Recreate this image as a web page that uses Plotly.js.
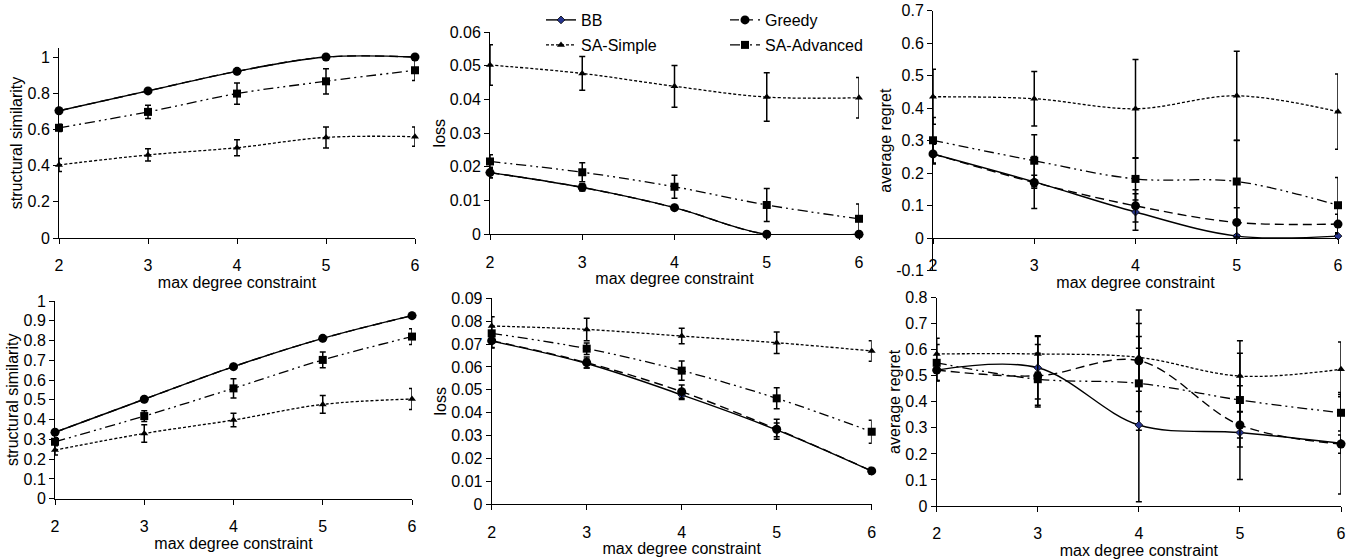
<!DOCTYPE html>
<html>
<head>
<meta charset="utf-8">
<script src="https://cdn.plot.ly/plotly-3.0.1.min.js"></script>
<style>
html,body{margin:0;padding:0;background:#fff;}
#chart{width:1360px;height:559px;}
</style>
</head>
<body>
<div id="chart"></div>
<script>
// ---------- data ----------
const degrees = [2, 3, 4, 5, 6];
const seriesNames = ["BB", "Greedy", "SA-Simple", "SA-Advanced"];
const xTitle = "max degree constraint";
const yTitles = ["structural similarity", "loss", "average regret",
                 "structural similarity", "loss", "average regret"];

// top row: structural similarity
const simTopBB = [0.703, 0.813, 0.921, 1.0, 1.0];
const simTopBBErr = [0, 0, 0, 0, 0];
const simTopGreedy = [0.703, 0.813, 0.921, 1.0, 1.0];
const simTopGreedyErr = [0, 0, 0, 0, 0];
const simTopSimple = [0.404, 0.459, 0.499, 0.556, 0.560];
const simTopSimpleErr = [0.036, 0.034, 0.044, 0.058, 0.053];
const simTopAdv = [0.609, 0.697, 0.798, 0.866, 0.927];
const simTopAdvErr = [0.02, 0.037, 0.059, 0.07, 0.057];

// top row: loss
const lossTopBB = [0.0183, 0.0139, 0.0079, 0, 0];
const lossTopBBErr = [0.0015, 0.001, 0.0005, 0, 0];
const lossTopGreedy = [0.0183, 0.0139, 0.0079, 0, 0];
const lossTopGreedyErr = [0.0015, 0.001, 0.0005, 0, 0];
const lossTopSimple = [0.0502, 0.0477, 0.0439, 0.0407, 0.0405];
const lossTopSimpleErr = [0.006, 0.005, 0.0062, 0.0072, 0.006];
const lossTopAdv = [0.0216, 0.0184, 0.0141, 0.0087, 0.0046];
const lossTopAdvErr = [0.002, 0.0028, 0.0034, 0.0049, 0.0044];

// top row: average regret
const regTopBB = [0.259, 0.173, 0.080, 0.006, 0.006];
const regTopBBErr = [0.03, 0.02, 0.056, 0.004, 0.004];
const regTopGreedy = [0.259, 0.171, 0.099, 0.048, 0.043];
const regTopGreedyErr = [0.03, 0.08, 0.05, 0.045, 0.03];
const regTopSimple = [0.435, 0.429, 0.398, 0.438, 0.389];
const regTopSimpleErr = [0.085, 0.084, 0.152, 0.137, 0.116];
const regTopAdv = [0.301, 0.238, 0.182, 0.174, 0.101];
const regTopAdvErr = [0.07, 0.08, 0.065, 0.126, 0.085];

// bottom row: structural similarity
const simBotBB = [0.336, 0.503, 0.668, 0.811, 0.926];
const simBotBBErr = [0, 0, 0, 0, 0];
const simBotGreedy = [0.336, 0.503, 0.668, 0.811, 0.926];
const simBotGreedyErr = [0, 0, 0, 0, 0];
const simBotSimple = [0.246, 0.330, 0.398, 0.477, 0.504];
const simBotSimpleErr = [0.025, 0.044, 0.034, 0.045, 0.053];
const simBotAdv = [0.288, 0.418, 0.558, 0.702, 0.820];
const simBotAdvErr = [0.02, 0.027, 0.049, 0.04, 0.04];

// bottom row: loss
const lossBotBB = [0.0713, 0.0615, 0.0478, 0.0325, 0.0145];
const lossBotBBErr = [0.003, 0.002, 0.002, 0.003, 0.001];
const lossBotGreedy = [0.0715, 0.0619, 0.0492, 0.0328, 0.0146];
const lossBotGreedyErr = [0.003, 0.0024, 0.0029, 0.0044, 0.0015];
const lossBotSimple = [0.0779, 0.0764, 0.0735, 0.0706, 0.0670];
const lossBotSimpleErr = [0.004, 0.0049, 0.0034, 0.0047, 0.0045];
const lossBotAdv = [0.0747, 0.0680, 0.0584, 0.0463, 0.0317];
const lossBotAdvErr = [0.003, 0.0025, 0.0042, 0.0046, 0.005];

// bottom row: average regret
const regBotBB = [0.522, 0.531, 0.311, 0.282, 0.241];
const regBotBBErr = [0.04, 0.12, 0.295, 0.18, 0.195];
const regBotGreedy = [0.522, 0.500, 0.558, 0.311, 0.238];
const regBotGreedyErr = [0.04, 0.12, 0.195, 0.05, 0.035];
const regBotSimple = [0.584, 0.584, 0.571, 0.499, 0.525];
const regBotSimpleErr = [0.06, 0.07, 0.13, 0.136, 0.105];
const regBotAdv = [0.550, 0.487, 0.471, 0.407, 0.358];
const regBotAdvErr = [0.07, 0.1, 0.18, 0.18, 0.07];

// tick labels
const xTickVals = [2, 3, 4, 5, 6];
const xTickText = ["2", "3", "4", "5", "6"];
const simTopTicks = [0, 0.2, 0.4, 0.6, 0.8, 1];
const simTopTickText = ["0", "0.2", "0.4", "0.6", "0.8", "1"];
const lossTopTicks = [0, 0.01, 0.02, 0.03, 0.04, 0.05, 0.06];
const lossTopTickText = ["0", "0.01", "0.02", "0.03", "0.04", "0.05", "0.06"];
const regTopTicks = [-0.1, 0, 0.1, 0.2, 0.3, 0.4, 0.5, 0.6, 0.7];
const regTopTickText = ["-0.1", "0", "0.1", "0.2", "0.3", "0.4", "0.5", "0.6", "0.7"];
const simBotTicks = [0, 0.1, 0.2, 0.3, 0.4, 0.5, 0.6, 0.7, 0.8, 0.9, 1];
const simBotTickText = ["0", "0.1", "0.2", "0.3", "0.4", "0.5", "0.6", "0.7", "0.8", "0.9", "1"];
const lossBotTicks = [0, 0.01, 0.02, 0.03, 0.04, 0.05, 0.06, 0.07, 0.08, 0.09];
const lossBotTickText = ["0", "0.01", "0.02", "0.03", "0.04", "0.05", "0.06", "0.07", "0.08", "0.09"];
const regBotTicks = [0, 0.1, 0.2, 0.3, 0.4, 0.5, 0.6, 0.7, 0.8];
const regBotTickText = ["0", "0.1", "0.2", "0.3", "0.4", "0.5", "0.6", "0.7", "0.8"];

// ---------- styles ----------
const FONT = "Liberation Sans, Arial, sans-serif";
const styles = [
  {dash: "solid", symbol: "diamond", size: 6, color: "#26358f", lw: 1.4},
  {dash: "9px,5px", symbol: "circle", size: 9, color: "#000000", lw: 1.4},
  {dash: "3px,2px", symbol: "triangle-up", size: 7, color: "#000000", lw: 1.3},
  {dash: "10px,4px,2px,4px,2px,4px", symbol: "square", size: 8, color: "#000000", lw: 1.3}
];

const panels = [
  {vals: [simTopBB, simTopGreedy, simTopSimple, simTopAdv], errs: [simTopBBErr, simTopGreedyErr, simTopSimpleErr, simTopAdvErr]},
  {vals: [lossTopBB, lossTopGreedy, lossTopSimple, lossTopAdv], errs: [lossTopBBErr, lossTopGreedyErr, lossTopSimpleErr, lossTopAdvErr]},
  {vals: [regTopBB, regTopGreedy, regTopSimple, regTopAdv], errs: [regTopBBErr, regTopGreedyErr, regTopSimpleErr, regTopAdvErr]},
  {vals: [simBotBB, simBotGreedy, simBotSimple, simBotAdv], errs: [simBotBBErr, simBotGreedyErr, simBotSimpleErr, simBotAdvErr]},
  {vals: [lossBotBB, lossBotGreedy, lossBotSimple, lossBotAdv], errs: [lossBotBBErr, lossBotGreedyErr, lossBotSimpleErr, lossBotAdvErr]},
  {vals: [regBotBB, regBotGreedy, regBotSimple, regBotAdv], errs: [regBotBBErr, regBotGreedyErr, regBotSimpleErr, regBotAdvErr]}
];

const W = 1360, H = 559;
// plot boxes in pixels: [left, right, top, bottom]
const boxes = [
  [59, 415, 48, 238],
  [490, 859, 32, 234.3],
  [933, 1338, 10.7, 270.5],
  [55, 412, 301, 498.7],
  [491.7, 871.7, 298.3, 504.3],
  [936.7, 1341, 297.7, 506]
];
const yRanges = [[0, 1.05], [0, 0.06], [-0.1, 0.7], [0, 1], [0, 0.09], [0, 0.8]];
const yTicks = [simTopTicks, lossTopTicks, regTopTicks, simBotTicks, lossBotTicks, regBotTicks];
const yTickText = [simTopTickText, lossTopTickText, regTopTickText, simBotTickText, lossBotTickText, regBotTickText];

const traces = [];
panels.forEach((p, pi) => {
  const ax = pi === 0 ? "" : String(pi + 1);
  // draw order: SA-Simple, SA-Advanced, BB, Greedy
  [2, 3, 0, 1].forEach(si => {
    const st = styles[si];
    traces.push({
      type: "scatter", mode: "lines+markers",
      x: degrees, y: p.vals[si],
      name: seriesNames[si],
      xaxis: "x" + ax, yaxis: "y" + ax,
      cliponaxis: false,
      line: {color: "#000", width: st.lw, dash: st.dash, shape: "spline", smoothing: 1},
      marker: {symbol: st.symbol, size: st.size, color: st.color, line: {color: "#000", width: si === 0 ? 0.8 : 0}},
      error_y: {type: "data", array: p.errs[si], visible: true, color: "#000", thickness: 1.5, width: 3},
      showlegend: pi === 1,
      legend: (si < 2) ? "legend" : "legend2",
      legendrank: si
    });
  });
});

const legendCommon = {
  orientation: "h", xanchor: "left", yanchor: "top",
  entrywidth: 139, entrywidthmode: "pixels",
  font: {family: FONT, size: 16, color: "#000"},
  bgcolor: "rgba(0,0,0,0)", traceorder: "normal", itemwidth: 30
};

const layout = {
  width: W, height: H,
  margin: {l: 0, r: 0, t: 0, b: 0},
  paper_bgcolor: "#fff", plot_bgcolor: "rgba(0,0,0,0)",
  font: {family: FONT, size: 16, color: "#000"},
  showlegend: true,
  legend: Object.assign({}, legendCommon, {x: 541 / W, y: 1 - 3 / H}),
  legend2: Object.assign({}, legendCommon, {x: 541 / W, y: 1 - 28 / H})
};

boxes.forEach((b, i) => {
  const ax = i === 0 ? "" : String(i + 1);
  const xd = [b[0] / W, b[1] / W];
  const yd = [1 - b[3] / H, 1 - b[2] / H];
  const xa = {
    domain: xd, range: [2, 6], anchor: "y" + ax,
    tickmode: "array", tickvals: xTickVals, ticktext: xTickText,
    showgrid: false, zeroline: false, showline: true, linecolor: "#000", linewidth: 1,
    ticks: "outside", ticklen: 5, tickcolor: "#000", tickwidth: 1,
    ticklabelstandoff: 8,
    tickfont: {family: FONT, size: 16, color: "#000"},
    title: {text: xTitle, font: {family: FONT, size: 16, color: "#000"}, standoff: 0},
    automargin: false, fixedrange: true
  };
  if (i === 2) {
    // x axis crosses at y = 0
    const y0pix = b[3] - (0 - yRanges[i][0]) / (yRanges[i][1] - yRanges[i][0]) * (b[3] - b[2]);
    xa.anchor = "free";
    xa.position = 1 - y0pix / H;
  }
  const ya = {
    domain: yd, range: yRanges[i], anchor: "x" + ax,
    tickmode: "array", tickvals: yTicks[i], ticktext: yTickText[i],
    showgrid: false, zeroline: false, showline: true, linecolor: "#000", linewidth: 1,
    ticks: "outside", ticklen: 5, tickcolor: "#000", tickwidth: 1,
    tickfont: {family: FONT, size: 16, color: "#000"},
    title: {text: yTitles[i], font: {family: FONT, size: 16, color: "#000"}, standoff: 0},
    automargin: false, fixedrange: true
  };
  layout["xaxis" + ax] = xa;
  layout["yaxis" + ax] = ya;
});

Plotly.newPlot("chart", traces, layout, {staticPlot: true, displayModeBar: false});
</script>
</body>
</html>
